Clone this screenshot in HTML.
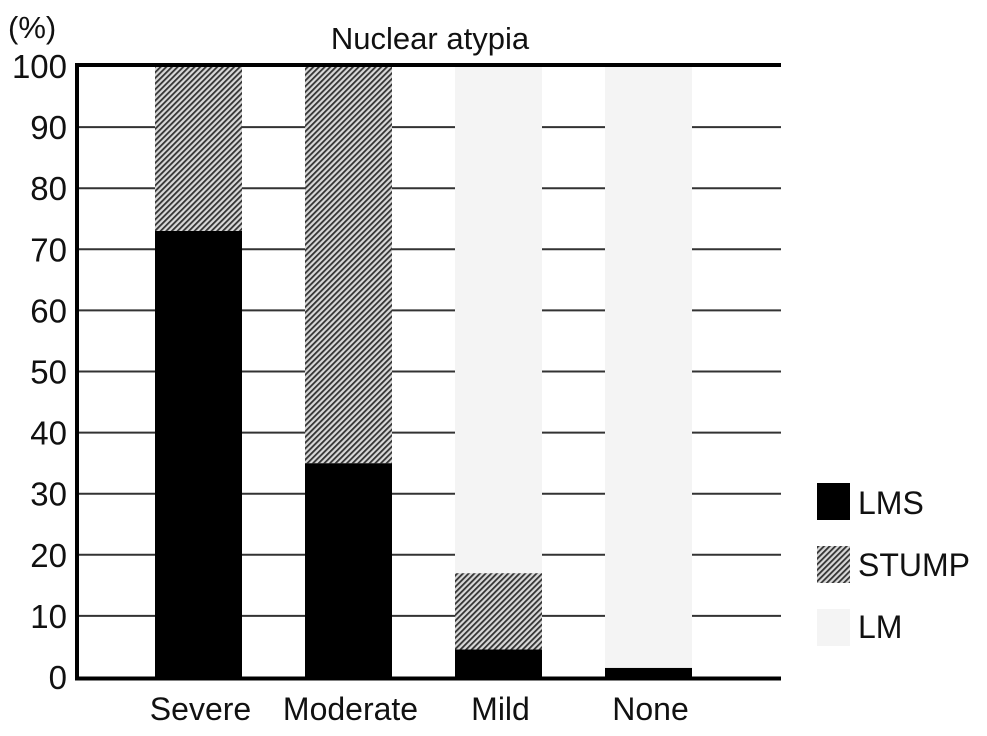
<!DOCTYPE html>
<html><head><meta charset="utf-8"><style>
body{margin:0;background:#fff;width:987px;height:731px;overflow:hidden}
text{font-family:"Liberation Sans",Arial,sans-serif;fill:#111}
</style></head><body>
<svg id="chart" width="987" height="731" xmlns="http://www.w3.org/2000/svg">
<defs>
<pattern id="hatch" patternUnits="userSpaceOnUse" width="4" height="4" patternTransform="rotate(45)">
<rect width="4" height="4" fill="#d8d8d8"/><rect width="1.8" height="4" fill="#333"/>
</pattern>
</defs>
<text x="8" y="38" font-size="31">(%)</text>
<text x="430" y="49" font-size="31" text-anchor="middle">Nuclear atypia</text>
<g id="grid"></g><g id="bars"></g><g id="axes"></g>
<g>
<rect x="817" y="483" width="33" height="37" fill="#000"/>
<text x="858" y="514" font-size="32">LMS</text>
<rect x="817" y="546" width="33" height="37" fill="url(#hatch)"/>
<text x="858" y="576" font-size="32">STUMP</text>
<rect x="817" y="609" width="33" height="37" fill="#f4f4f4"/>
<text x="858" y="638" font-size="32">LM</text>
</g>
</svg>
<script>
const categories=["Severe","Moderate","Mild","None"];
const lms=[73,35,4.5,1.5];
const stump=[27,65,12.5,0];
const lm=[0,0,83,98.5];
const yTicks=[0,10,20,30,40,50,60,70,80,90,100];
const NS="http://www.w3.org/2000/svg";
const X0=78,X1=781,Y0=677,Y100=66;
const yScale=v=>Y0-(v/100)*(Y0-Y100);
const barW=87;
const xc=i=>198.5+i*150;
function mk(tag,attrs,parent){const e=document.createElementNS(NS,tag);for(const k in attrs)e.setAttribute(k,attrs[k]);parent.appendChild(e);return e;}
const gridG=document.getElementById('grid'),barsG=document.getElementById('bars'),axesG=document.getElementById('axes');
yTicks.forEach(t=>{
 if(t>0&&t<100){const l=mk('line',{x1:X0,x2:X1,y1:yScale(t),y2:yScale(t),stroke:'#333','stroke-width':2},gridG);
 
 }
 const tx=mk('text',{x:67,y:yScale(t)+12,'font-size':33,'text-anchor':'end'},axesG);tx.textContent=t;
 
 
});
categories.forEach((c,i)=>{
 const segs=[[lms[i],'#000','lms'],[stump[i],'url(#hatch)','stump'],[lm[i],'#f4f4f4','lm']];
 let base=0;
 segs.forEach(([v,f,n])=>{
  if(v<=0)return;
  const r=mk('rect',{x:xc(i)-barW/2,y:yScale(base+v),width:barW,height:yScale(base)-yScale(base+v),fill:f},barsG);
  
  
  base+=v;
 });
 const tx=mk('text',{x:xc(i)+2,y:720,'font-size':32,'text-anchor':'middle'},axesG);tx.textContent=c;
 
 
});
const topBorder=mk('line',{x1:X0-2,x2:X1,y1:Y100-1,y2:Y100-1,stroke:'#000','stroke-width':4},axesG);


const yAxisLine=mk('line',{x1:X0-1,x2:X0-1,y1:Y100-3,y2:Y0+3,stroke:'#000','stroke-width':4},axesG);


const xAxisLine=mk('line',{x1:X0-3,x2:X1,y1:Y0+1.5,y2:Y0+1.5,stroke:'#000','stroke-width':4},axesG);


</script>
</body></html>
